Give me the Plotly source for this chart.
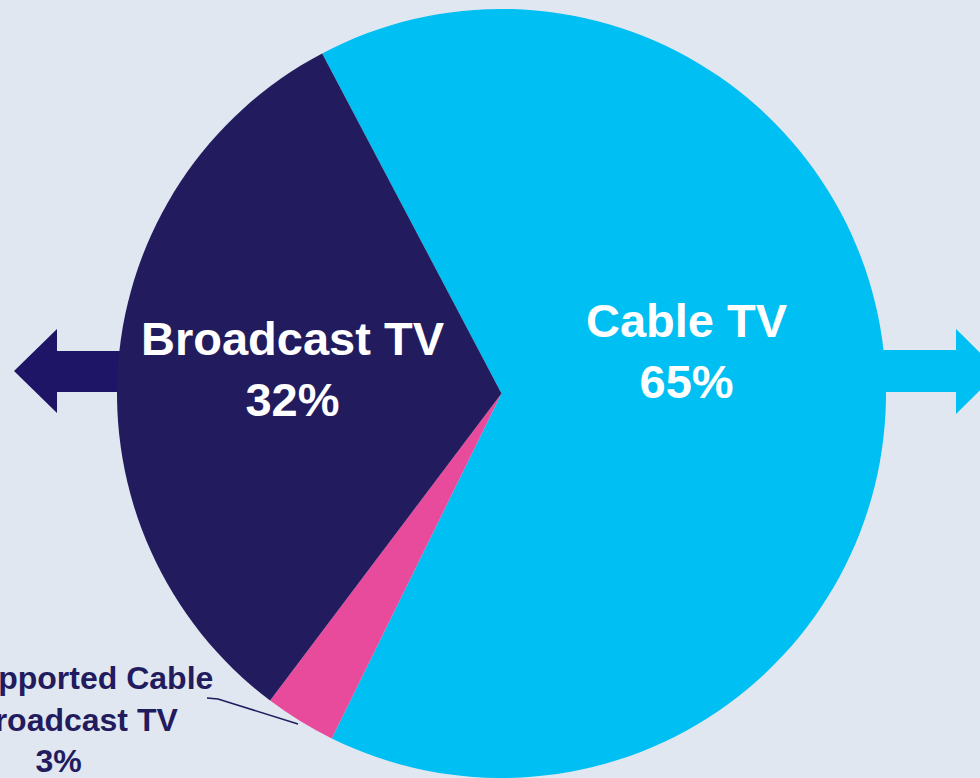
import plotly.graph_objects as go

# ---- data ----
labels = ["Cable TV", "Ad-Supported Cable<br>& Broadcast TV", "Broadcast TV"]
values = [65, 3, 32]
colors = ["#00bff3", "#e84b9b", "#221c5e"]

W, H = 980, 778
BG = "#e1e7f1"
NAVY = "#221c5e"
FONT = "Arial, Liberation Sans, sans-serif"


def px(x):
    return x / W


def py(y):
    return 1 - y / H


fig = go.Figure()
fig.add_trace(go.Pie(
    labels=labels,
    values=values,
    sort=False,
    direction="clockwise",
    rotation=-27.8,
    marker=dict(colors=colors, line=dict(width=0)),
    textinfo="none",
    hoverinfo="label+percent",
    showlegend=False,
    domain=dict(x=[23 / W, 1], y=[0, 1 - 9 / H]),
))

# arrows (decorative shapes, drawn below the pie)
left_arrow = "M {} {} L {} {} L {} {} L {} {} L {} {} L {} {} L {} {} Z".format(
    px(14), py(371), px(57), py(329), px(57), py(351), px(200), py(351),
    px(200), py(392), px(57), py(392), px(57), py(413))
right_arrow = "M {} {} L {} {} L {} {} L {} {} L {} {} L {} {} L {} {} Z".format(
    px(999), py(371.5), px(956), py(329), px(956), py(350), px(800), py(350),
    px(800), py(392), px(956), py(392), px(956), py(414))
fig.add_shape(type="path", path=left_arrow, xref="paper", yref="paper",
              fillcolor="#1f1566", line=dict(width=0), layer="below")
fig.add_shape(type="path", path=right_arrow, xref="paper", yref="paper",
              fillcolor="#00c0f3", line=dict(width=0), layer="below")

# connector line for small slice label
conn = "M {} {} L {} {} L {} {}".format(px(207), py(698), px(218), py(699), px(298), py(724))
fig.add_shape(type="path", path=conn, xref="paper", yref="paper",
              line=dict(color=NAVY, width=1.5))

# slice labels
label_pos = [(687, 351, 47, "white"), (58, 719, 32, NAVY), (293, 369, 47, "white")]
for lab, val, (x, y, size, col) in zip(labels, values, label_pos):
    fig.add_annotation(
        x=px(x), y=py(y), xref="paper", yref="paper",
        text="<b>{}<br>{}%</b>".format(lab, val),
        showarrow=False, xanchor="center", yanchor="middle",
        font=dict(family=FONT, size=size, color=col),
        align="center",
    )

fig.update_layout(
    width=W, height=H,
    margin=dict(l=0, r=0, t=0, b=0),
    paper_bgcolor=BG, plot_bgcolor=BG,
)

fig.write_html("out.html", config={"displayModeBar": False},
               post_script="document.body.style.margin='0';document.body.style.overflow='hidden';")
